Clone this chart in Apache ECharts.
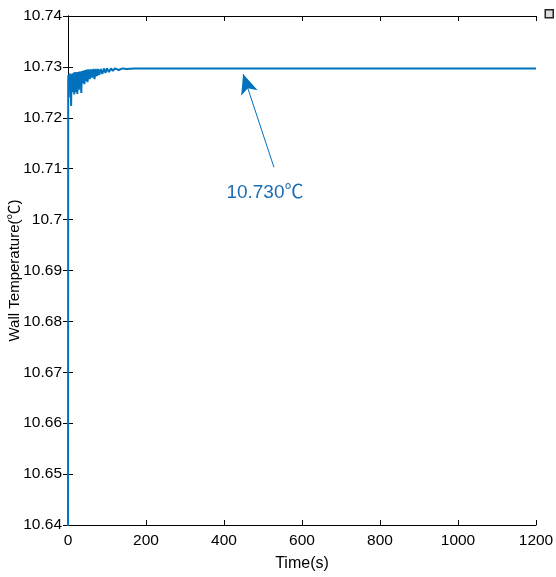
<!DOCTYPE html>
<html>
<head>
    <meta charset="utf-8">
    <title>Wall Temperature</title>
    <script src="https://cdn.jsdelivr.net/npm/echarts@6/dist/echarts.min.js"></script>
    <style>
        html, body { margin: 0; padding: 0; background: #fff; }
        #chart1 { width: 556px; height: 577px; }
    </style>
</head>
<body>
<div id="chart1"></div>
<script type="text/javascript">
    // 时间 (s)
    var timeSec = [0, 0.5, 1, 2, 3, 4, 5, 6, 7, 8, 9, 10, 11, 12, 13, 14, 15, 16, 17, 18, 19, 20,
        21, 22, 23, 24, 25, 26, 27, 28, 29, 30, 32, 34, 36, 38, 40, 42, 44, 46, 48, 50, 53, 56, 59, 62, 65, 68, 71, 74, 77,
        80, 84, 88, 92, 96, 100, 105, 110, 115, 120, 130, 140, 150, 170, 200, 300, 600, 900, 1200];
    // 壁面温度 (℃)
    var wallTemp = [10.62, 10.7270, 10.7284, 10.7262, 10.7286, 10.7255, 10.7287, 10.7240, 10.7285, 10.7223,
        10.7284, 10.7258, 10.7287, 10.7250, 10.7286, 10.7262, 10.7289, 10.7246, 10.7288, 10.7265, 10.7290, 10.7250,
        10.7288, 10.7260, 10.7289, 10.7247, 10.7290, 10.7266, 10.7290, 10.7255, 10.7291, 10.7262,
        10.7291, 10.7249, 10.7292, 10.7268, 10.7293, 10.7266, 10.7294, 10.7272,
        10.7295, 10.7270, 10.7295, 10.7276, 10.7295, 10.7279, 10.7296, 10.7276, 10.7296, 10.7282, 10.7296, 10.7284,
        10.7296, 10.7286, 10.7297, 10.7288, 10.7297, 10.7290, 10.7297, 10.7292, 10.7297, 10.7294, 10.7297, 10.7296,
        10.7297, 10.7297, 10.7297, 10.7297, 10.7297, 10.7297, 10.7297];

    // 注释箭头: 起点 / 终点 (time, temp)
    var arrowFrom = [528, 10.7103];
    var arrowTo = [449, 10.7286];
    var noteAt = [505, 10.7053];
    var noteText = '10.730℃';

    var lineData = timeSec.map(function (t, i) { return [t, wallTemp[i]]; });

    var font = '"Liberation Sans", "Noto Sans CJK SC", Arial, sans-serif';
    var blue = '#0072BD';

    function yFmt(v) { return parseFloat(v.toFixed(2)).toString(); }
    function xFmt(v) { return String(v); }

    var myChart1 = echarts.init(document.getElementById('chart1'));
    myChart1.setOption({
        animation: false,
        backgroundColor: '#fff',
        grid: { left: 68, right: 20, top: 16, bottom: 52, outerBoundsMode: 'none', containLabel: false },
        xAxis: [{
            type: 'value', min: 0, max: 1200, interval: 200,
            name: 'Time(s)', nameLocation: 'middle', nameGap: 31, nameMoveOverlap: false,
            nameTextStyle: { fontFamily: font, fontSize: 16, color: '#000' },
            axisLine: { lineStyle: { color: '#000', width: 1 } },
            axisTick: { inside: true, length: 5, lineStyle: { color: '#000' } },
            axisLabel: { fontFamily: font, fontSize: 15.5, color: '#000', margin: 8, formatter: xFmt },
            splitLine: { show: false }
        }, {
            type: 'value', position: 'top', min: 0, max: 1200, interval: 200,
            axisLine: { show: true, lineStyle: { color: '#000', width: 1 } },
            axisTick: { inside: true, length: 5, lineStyle: { color: '#000' } },
            axisLabel: { show: false },
            splitLine: { show: false }
        }],
        yAxis: [{
            type: 'value', min: 10.64, max: 10.74, interval: 0.01,
            name: 'Wall Temperature(℃)', nameLocation: 'middle', nameGap: 46, nameMoveOverlap: false,
            nameTextStyle: { fontFamily: font, fontSize: 15, color: '#000' },
            axisLine: { show: true, lineStyle: { color: '#000', width: 1 } },
            axisTick: { show: true, inside: true, length: 5, lineStyle: { color: '#000' } },
            axisLabel: { fontFamily: font, fontSize: 15.5, color: '#000', margin: 6, formatter: yFmt },
            splitLine: { show: false }
        }, {
            type: 'value', position: 'right', min: 10.64, max: 10.74, interval: 0.01,
            axisLine: { show: true, lineStyle: { color: '#000', width: 1 } },
            axisTick: { show: true, inside: true, length: 5, lineStyle: { color: '#000' } },
            axisLabel: { show: false },
            splitLine: { show: false }
        }],
        graphic: [{
            type: 'rect', right: 2, top: 9,
            shape: { width: 8, height: 8 },
            style: { fill: '#ddd', stroke: '#222', lineWidth: 1.5 }
        }],
        series: [{
            name: 'Wall Temperature',
            type: 'line',
            data: lineData,
            showSymbol: false,
            clip: true,
            lineStyle: { color: blue, width: 2 },
            itemStyle: { color: blue },
            markLine: {
                silent: true,
                symbol: ['none', 'arrow'],
                symbolSize: [13, 20],
                label: { show: false },
                lineStyle: { color: blue, width: 1, type: 'solid' },
                data: [[{ coord: arrowFrom }, { coord: arrowTo }]]
            },
            markPoint: {
                silent: true,
                symbol: 'rect',
                symbolSize: 1,
                itemStyle: { color: 'rgba(0,0,0,0)' },
                label: {
                    show: true, position: 'inside', formatter: noteText,
                    fontFamily: font, fontSize: 19, color: '#1b6db4'
                },
                data: [{ coord: noteAt }]
            }
        }]
    });
</script>
</body>
</html>
